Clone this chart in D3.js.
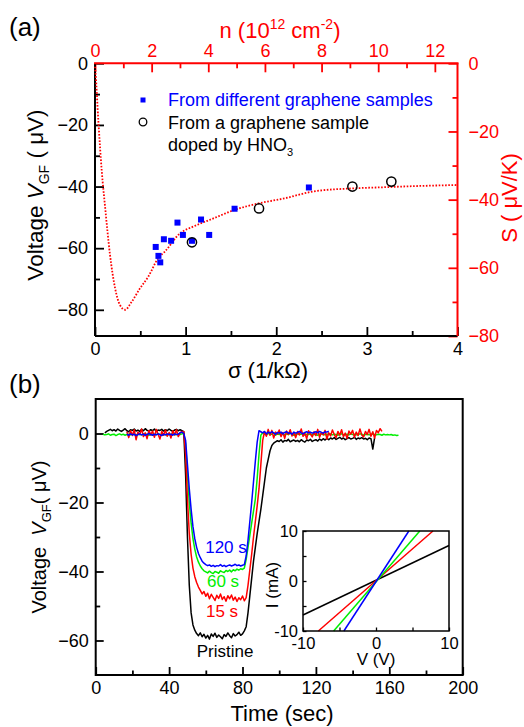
<!DOCTYPE html>
<html>
<head>
<meta charset="utf-8" />
<title>VGF vs conductance and doping time</title>
<script src="https://cdn.jsdelivr.net/npm/d3@7/dist/d3.min.js"></script>
<style>
  html, body { margin: 0; padding: 0; background: #fff; }
  svg { display: block; }
</style>
</head>
<body>
<div id="chart"></div>
<script>
// ---- panel (a) data ----
var squareSigma = [0.67, 0.70, 0.72, 0.76, 0.84, 0.91, 0.97, 1.07, 1.17, 1.26, 1.54, 2.36];
var squareV = [-59.6, -62.5, -64.6, -57.1, -57.6, -51.7, -55.7, -57.6, -50.7, -55.7, -47.2, -40.3];
var circleSigma = [1.07, 1.81, 2.84, 3.27];
var circleV = [-58.1, -47.1, -40.0, -38.4];
// Seebeck curve, plotted against the top (n) and right (S) axes
var curveN = [0, 0.02, 0.12, 0.24, 0.35, 0.53, 0.71, 0.88, 1.06, 1.30, 1.59, 1.88, 2.23, 2.47, 3.0, 3.5, 4.18, 4.93, 5.78, 6.7, 7.71, 9.08, 10.06, 11.4, 12.78];
var curveS = [-1, -2.9, -17.1, -31.8, -41.6, -56.2, -66, -70.9, -72.3, -69.9, -66, -62.6, -57.2, -55.2, -49.9, -47.8, -45.5, -43, -41.1, -39.6, -37.6, -36.7, -36.4, -36.0, -35.7];

// ---- panel (b) data: one value per second, index = time (s), null = no data ----
var _ = null;
var greenV = [
  _,_,_,_,-0.2,-0.4,-0.3,-0.1,-0.5,-0.3,
  -0.2,-0.6,-0.3,-0.1,-0.4,-0.2,-0.5,-0.3,-0.2,-0.4,
  -0.1,-0.3,-0.5,-0.2,-0.3,-0.4,-0.1,-0.3,-0.2,-0.5,
  -0.3,-0.2,-0.4,-0.3,-0.1,-0.3,-0.4,-0.2,-0.3,-0.5,
  -0.2,-0.3,-0.1,-0.4,-0.3,-0.2,-0.3,-0.1,0,-3,
  -12,-20,-26,-30.5,-33.5,-35.8,-37.3,-38.4,-39.2,-39.8,
  -40.1,-40.4,-39.9,-40.3,-40.6,-40.0,-40.2,-40.5,-39.8,-40.1,
  -40.3,-39.7,-40.0,-39.6,-40.1,-39.5,-39.8,-39.3,-39.6,-39.2,
  -39.4,-39,-36.5,-33,-29.5,-26,-22.5,-19,-13,-6,
  -0.5,0.2,-0.1,-0.4,0.1,-0.3,-0.2,0.2,-0.5,-0.1,
  -0.3,0.1,-0.2,-0.4,-0.1,-0.3,0.1,-0.2,-0.5,-0.2,
  -0.1,-0.3,-0.2,0.1,-0.4,-0.2,-0.3,-0.1,-0.4,-0.2,
  -0.3,-0.5,-0.2,-0.1,-0.3,-0.4,-0.2,-0.3,-0.1,-0.4,
  -0.2,-0.3,-0.5,-0.2,-0.1,-0.4,-0.3,-0.2,-0.4,-0.1,
  -0.3,-0.2,-0.4,-0.3,-0.1,-0.2,-0.5,-0.3,-0.2,-0.4,
  -0.3,-0.1,-0.3,-0.4,-0.2,-0.3,-0.5,-0.2,-0.4,-0.3,
  -0.4,-0.3,-0.5,-0.4,-0.6,-0.5];
var blackV = [
  _,_,_,_,_,0.2,0.6,0.9,1.2,0.8,
  1.1,0.7,1.3,0.9,0.6,1.0,1.4,0.8,0.5,1.1,
  0.9,1.3,0.7,1.0,0.6,1.2,0.8,1.4,0.9,0.7,
  1.1,0.8,1.3,0.6,1.0,0.9,1.2,0.7,1.1,0.8,
  1.3,0.9,0.6,1.0,1.2,0.8,1.1,0.8,0.5,-12,
  -30,-44,-52,-55.5,-57,-58,-58.6,-57.8,-58.9,-58.2,
  -59.3,-58.5,-59.6,-58.1,-58.8,-57.9,-59.1,-58.4,-58.9,-59.5,
  -58.3,-58.8,-57.8,-58.6,-59.2,-58.0,-58.7,-58.3,-57.6,-58.5,
  -58.1,-57.2,-56,-52,-47,-42,-37,-33,-29,-25.5,
  -22,-18,-14,-10,-7.5,-5,-3.5,-2.8,-2.4,-2.1,
  -2.3,-1.8,-2.5,-2.0,-2.2,-1.7,-2.4,-2.1,-1.9,-2.3,
  -2.0,-2.4,-1.8,-2.2,-2.5,-1.9,-2.1,-1.7,-2.3,-2.0,
  -1.8,-2.2,-1.6,-2.0,-1.5,-1.9,-1.4,-1.8,-1.3,-1.6,
  -1.2,-1.7,-1.4,-1.1,-1.6,-1.3,-1.8,-1.5,-1.2,-1.6,
  -1.4,-1.1,-1.7,-1.3,-1.5,-1.2,-1.6,-1.4,-1.8,-1.3,
  -1.5,-4.5,-1.2];
var redV = [
  _,_,_,_,_,_,_,_,_,_,
  _,_,_,_,_,_,_,0.5,-1.2,0.8,
  -0.6,1.1,-1.8,0.4,-0.3,1.3,-0.9,0.2,-1.5,0.9,
  -0.4,0.7,-1.1,1.2,-0.2,-1.6,0.6,-0.5,1.0,-0.8,
  0.3,-1.3,0.8,-0.4,1.1,-0.9,0.2,0.6,0.5,-6,
  -19,-29,-35,-39,-41.5,-43.2,-44.5,-45.5,-46.5,-45.8,
  -47.2,-46.3,-47.9,-46.6,-47.5,-48.4,-46.9,-47.8,-46.5,-48.1,
  -47.3,-48.6,-47.0,-47.9,-46.8,-48.3,-47.4,-48.7,-47.6,-48.2,
  -47.1,-48.5,-47.6,-44,-39.5,-35,-30,-25.5,-21,-16,
  -9,-2,0.5,-0.8,1.2,-0.5,0.9,-1.3,0.4,-0.2,
  1.0,-0.9,0.3,-1.4,0.7,-0.3,1.1,-0.7,0.2,-1.2,
  0.6,-0.4,1.3,-0.8,0.1,-1.5,0.8,-0.2,-1.0,0.5,
  -0.6,1.2,-1.1,0.3,-0.4,0.9,-1.6,0.2,-0.7,1.0,
  -0.3,-1.2,0.6,-0.5,1.1,-0.9,0.1,-1.4,0.7,-0.2,
  0.9,-1.1,0.4,-0.6,1.3,-0.4,-1.0,0.6,-0.3,1.2,
  -0.8,0.5,-1.3,0.9,0.2,1.4,0.6];
var blueV = [
  _,_,_,_,_,_,_,_,_,_,
  _,_,_,_,_,_,_,-0.2,-0.5,-0.1,
  -0.4,-0.2,-0.6,-0.3,-0.1,-0.4,-0.2,-0.5,-0.3,0,
  -0.3,-0.5,-0.2,-0.4,-0.1,-0.3,-0.6,-0.2,-0.4,-0.1,
  -0.3,-0.2,-0.5,-0.1,-0.3,-0.2,0.2,0.4,0,-2,
  -9,-16,-22,-27,-30.5,-33,-34.8,-36,-37,-37.6,
  -38,-38.3,-38.1,-38.5,-38.2,-38.6,-38.3,-38.4,-38.0,-38.5,
  -38.2,-38.6,-38.3,-38.1,-38.4,-38.2,-37.9,-38.3,-38.1,-38.4,
  -38.2,-38,-35.5,-31,-25.5,-20,-14,-8,-2.5,0.8,
  0.5,0.2,0.6,-0.1,0.4,0.1,0.5,0.2,-0.2,0.3,
  0.1,0.4,-0.1,0.3,0.5,0.1,0.2,-0.2,0.4,0.1,
  0.3,0.6,0.2,-0.1,0.3,0.5,0.2,0.4,0.1,0.3,
  0.5,0.2,0.6,0.3,0.1,0.5,0.4,0.7];

// inset I-V lines: end points
var ivV = { black: [-10, 10], red: [-7.9, 7.8], green: [-5.8, 6.0], blue: [-4.4, 4.5] };
var ivI = { black: [-6.8, 7.1], red: [-10, 10], green: [-10, 10], blue: [-10, 10] };

var font = "'Liberation Sans', Arial, Helvetica, sans-serif";
var RED = "#ff0000", BLUE = "#0000ff", GREEN = "#00ee00";
var fmt = d3.format("~g");

var svg = d3.select("#chart").append("svg")
    .attr("width", 524).attr("height", 727)
    .attr("font-family", font);

function styleAxis(g, color, size) {
    g.attr("font-family", font);
    g.select(".domain").remove();
    g.selectAll("line").attr("stroke", color).attr("stroke-width", 1.8);
    g.selectAll("text").attr("fill", color).attr("font-size", size);
}

// ================= panel (a) =================
var xA = d3.scaleLinear().domain([0, 4]).range([95, 457.5]);
var yA = d3.scaleLinear().domain([-88.5, 0]).range([336, 63.3]);
var xTop = d3.scaleLinear().domain([0, 12.8]).range([95, 457.5]);
var yRight = d3.scaleLinear().domain([-80, 0]).range([336, 63.3]);

var gA = svg.append("g");

// left axis (black)
gA.append("g").attr("transform", "translate(95,0)")
    .call(d3.axisLeft(yA).tickValues([0, -20, -40, -60, -80]).tickSize(-9).tickPadding(7).tickFormat(fmt))
    .call(styleAxis, "#000", 18);
gA.append("g").attr("transform", "translate(95,0)")
    .call(d3.axisLeft(yA).tickValues([-10, -30, -50, -70]).tickSize(-5).tickFormat(""))
    .call(styleAxis, "#000", 18);
// bottom axis
gA.append("g").attr("transform", "translate(0,336)")
    .call(d3.axisBottom(xA).tickValues([0, 1, 2, 3, 4]).tickSize(-9).tickPadding(6).tickFormat(fmt))
    .call(styleAxis, "#000", 18);
gA.append("g").attr("transform", "translate(0,336)")
    .call(d3.axisBottom(xA).tickValues([0.5, 1.5, 2.5, 3.5]).tickSize(-5).tickFormat(""))
    .call(styleAxis, "#000", 18);
// top axis (red)
gA.append("g").attr("transform", "translate(0,63.3)")
    .call(d3.axisTop(xTop).tickValues([0, 2, 4, 6, 8, 10, 12]).tickSize(-9).tickPadding(6).tickFormat(fmt))
    .call(styleAxis, RED, 18);
gA.append("g").attr("transform", "translate(0,63.3)")
    .call(d3.axisTop(xTop).tickValues([1, 3, 5, 7, 9, 11]).tickSize(-5).tickFormat(""))
    .call(styleAxis, RED, 18);
// right axis (red)
gA.append("g").attr("transform", "translate(457.5,0)")
    .call(d3.axisRight(yRight).tickValues([0, -20, -40, -60, -80]).tickSize(-9).tickPadding(11).tickFormat(fmt))
    .call(styleAxis, RED, 18);
gA.append("g").attr("transform", "translate(457.5,0)")
    .call(d3.axisRight(yRight).tickValues([-10, -30, -50, -70]).tickSize(-5).tickFormat(""))
    .call(styleAxis, RED, 18);

// frame
gA.append("line").attr("x1", 95).attr("x2", 95).attr("y1", 63.3).attr("y2", 336).attr("stroke", "#000").attr("stroke-width", 2);
gA.append("line").attr("x1", 95).attr("x2", 457.5).attr("y1", 336).attr("y2", 336).attr("stroke", "#000").attr("stroke-width", 2);
gA.append("line").attr("x1", 94).attr("x2", 458.5).attr("y1", 63.3).attr("y2", 63.3).attr("stroke", RED).attr("stroke-width", 2);
gA.append("line").attr("x1", 457.5).attr("x2", 457.5).attr("y1", 63.3).attr("y2", 336).attr("stroke", RED).attr("stroke-width", 2);

// dotted Seebeck curve
var curveData = curveN.map(function (n, i) { return { n: n, s: curveS[i] }; });
gA.append("path")
    .datum(curveData)
    .attr("fill", "none")
    .attr("stroke", RED)
    .attr("stroke-width", 1.8)
    .attr("stroke-dasharray", "1.6,1.6")
    .attr("d", d3.line().curve(d3.curveMonotoneX)
        .x(function (d) { return xTop(d.n); })
        .y(function (d) { return yRight(d.s); }));

// squares
gA.selectAll("rect.sq")
    .data(squareSigma.map(function (s, i) { return { x: s, y: squareV[i] }; }))
    .enter().append("rect")
    .attr("class", "sq")
    .attr("x", function (d) { return xA(d.x) - 3; })
    .attr("y", function (d) { return yA(d.y) - 3; })
    .attr("width", 6).attr("height", 6)
    .attr("fill", BLUE);

// circles
gA.selectAll("circle.hno")
    .data(circleSigma.map(function (s, i) { return { x: s, y: circleV[i] }; }))
    .enter().append("circle")
    .attr("class", "hno")
    .attr("cx", function (d) { return xA(d.x); })
    .attr("cy", function (d) { return yA(d.y); })
    .attr("r", 4.6)
    .attr("fill", "none")
    .attr("stroke", "#000")
    .attr("stroke-width", 1.5);

// legend
gA.append("rect").attr("x", 140.5).attr("y", 97.5).attr("width", 5).attr("height", 5).attr("fill", BLUE);
gA.append("text").attr("x", 168).attr("y", 106).attr("font-size", 18).attr("fill", BLUE)
    .text("From different graphene samples");
gA.append("circle").attr("cx", 143).attr("cy", 122).attr("r", 3.8)
    .attr("fill", "none").attr("stroke", "#000").attr("stroke-width", 1.3);
gA.append("text").attr("x", 168).attr("y", 128.5).attr("font-size", 18).attr("fill", "#000")
    .text("From a graphene sample");
var hno = gA.append("text").attr("x", 168).attr("y", 150.5).attr("font-size", 18).attr("fill", "#000");
hno.append("tspan").text("doped by HNO");
hno.append("tspan").attr("font-size", 11).attr("dy", 5).text("3");

// titles
svg.append("text").attr("x", 9).attr("y", 36).attr("font-size", 26).text("(a)");

var topTitle = svg.append("text").attr("x", 280).attr("y", 37.5)
    .attr("text-anchor", "middle").attr("font-size", 22).attr("fill", RED);
topTitle.append("tspan").text("n (10");
topTitle.append("tspan").attr("font-size", 14).attr("dy", -9).text("12");
topTitle.append("tspan").attr("dy", 9).text(" cm");
topTitle.append("tspan").attr("font-size", 14).attr("dy", -9).text("-2");
topTitle.append("tspan").attr("dy", 9).text(")");

var leftTitleA = svg.append("text").attr("transform", "translate(43,195) rotate(-90)")
    .attr("text-anchor", "middle").attr("font-size", 22.5);
leftTitleA.append("tspan").text("Voltage ");
leftTitleA.append("tspan").attr("font-style", "italic").text("V");
leftTitleA.append("tspan").attr("font-size", 14).attr("dy", 6).text("GF");
leftTitleA.append("tspan").attr("dy", -6).text(" ( \u03bcV)");

svg.append("text").attr("transform", "translate(517,198) rotate(-90)")
    .attr("text-anchor", "middle").attr("font-size", 22).attr("fill", RED)
    .text("S ( \u03bcV/K)");

svg.append("text").attr("x", 268).attr("y", 378).attr("text-anchor", "middle")
    .attr("font-size", 22).text("\u03c3 (1/k\u03a9)");

// ================= panel (b) =================
var xB = d3.scaleLinear().domain([0, 200]).range([95.7, 462.7]);
var yB = d3.scaleLinear().domain([-70, 10]).range([675, 399]);

var gB = svg.append("g");

gB.append("g").attr("transform", "translate(95.7,0)")
    .call(d3.axisLeft(yB).tickValues([0, -20, -40, -60]).tickSize(-8).tickPadding(7).tickFormat(fmt))
    .call(styleAxis, "#000", 18);
gB.append("g").attr("transform", "translate(95.7,0)")
    .call(d3.axisLeft(yB).tickValues([-10, -30, -50]).tickSize(-4.5).tickFormat(""))
    .call(styleAxis, "#000", 18);
gB.append("g").attr("transform", "translate(0,675)")
    .call(d3.axisBottom(xB).tickValues([0, 40, 80, 120, 160, 200]).tickSize(-8).tickPadding(6).tickFormat(fmt))
    .call(styleAxis, "#000", 18);
gB.append("g").attr("transform", "translate(0,675)")
    .call(d3.axisBottom(xB).tickValues([20, 60, 100, 140, 180]).tickSize(-4.5).tickFormat(""))
    .call(styleAxis, "#000", 18);

gB.append("rect").attr("x", 95.7).attr("y", 399).attr("width", 367).attr("height", 276)
    .attr("fill", "none").attr("stroke", "#000").attr("stroke-width", 2);

var trace = d3.line()
    .defined(function (d) { return d.v !== null; })
    .x(function (d) { return xB(d.t); })
    .y(function (d) { return yB(d.v); });

[[greenV, GREEN], [blackV, "#000"], [redV, RED], [blueV, BLUE]].forEach(function (s) {
    gB.append("path")
        .datum(s[0].map(function (v, i) { return { t: i, v: v }; }))
        .attr("fill", "none")
        .attr("stroke", s[1])
        .attr("stroke-width", 1.5)
        .attr("stroke-linejoin", "round")
        .attr("d", trace);
});

// trace labels
gB.append("text").attr("x", 226).attr("y", 553).attr("text-anchor", "middle").attr("font-size", 17).attr("fill", BLUE).text("120 s");
gB.append("text").attr("x", 223).attr("y", 587).attr("text-anchor", "middle").attr("font-size", 17).attr("fill", GREEN).text("60 s");
gB.append("text").attr("x", 222).attr("y", 617).attr("text-anchor", "middle").attr("font-size", 17).attr("fill", RED).text("15 s");
gB.append("text").attr("x", 225).attr("y", 657).attr("text-anchor", "middle").attr("font-size", 17).attr("fill", "#000").text("Pristine");

svg.append("text").attr("x", 9).attr("y", 393).attr("font-size", 26).text("(b)");

var leftTitleB = svg.append("text").attr("transform", "translate(46,537) rotate(-90)")
    .attr("text-anchor", "middle").attr("font-size", 20);
leftTitleB.append("tspan").text("Voltage\u00a0\u00a0");
leftTitleB.append("tspan").attr("font-style", "italic").text("V");
leftTitleB.append("tspan").attr("font-size", 13).attr("dy", 5).text("GF");
leftTitleB.append("tspan").attr("dy", -5).text("( \u03bcV)");

svg.append("text").attr("x", 282).attr("y", 721).attr("text-anchor", "middle")
    .attr("font-size", 22).text("Time (sec)");

// ---- inset ----
var xI = d3.scaleLinear().domain([-10, 10]).range([303, 449]);
var yI = d3.scaleLinear().domain([-10, 10]).range([631, 531]);
var gI = svg.append("g");

gI.append("rect").attr("x", 303).attr("y", 531).attr("width", 146).attr("height", 100)
    .attr("fill", "#fff").attr("stroke", "none");

["black", "red", "green", "blue"].forEach(function (k) {
    var col = { black: "#000", red: RED, green: GREEN, blue: BLUE }[k];
    gI.append("path")
        .datum(ivV[k].map(function (v, i) { return { v: v, i: ivI[k][i] }; }))
        .attr("fill", "none").attr("stroke", col).attr("stroke-width", 1.5)
        .attr("d", d3.line().x(function (d) { return xI(d.v); }).y(function (d) { return yI(d.i); }));
});

var fmtI = function (d) { return d % 10 === 0 ? d : ""; };
gI.append("g").attr("transform", "translate(303,0)")
    .call(d3.axisLeft(yI).tickValues([-10, -5, 0, 5, 10]).tickSize(-3.5).tickPadding(5).tickFormat(fmtI))
    .call(styleAxis, "#000", 16.5);
gI.append("g").attr("transform", "translate(0,631)")
    .call(d3.axisBottom(xI).tickValues([-10, -5, 0, 5, 10]).tickSize(-3.5).tickPadding(6).tickFormat(fmtI))
    .call(styleAxis, "#000", 16.5);
gI.selectAll("line").attr("stroke-width", 1.3);

gI.append("rect").attr("x", 303).attr("y", 531).attr("width", 146).attr("height", 100)
    .attr("fill", "none").attr("stroke", "#000").attr("stroke-width", 1.5);

gI.append("text").attr("x", 376).attr("y", 665).attr("text-anchor", "middle")
    .attr("font-size", 17).text("V (V)");
gI.append("text").attr("transform", "translate(278,585) rotate(-90)")
    .attr("text-anchor", "middle").attr("font-size", 17).text("I (mA)");
</script>
</body>
</html>
